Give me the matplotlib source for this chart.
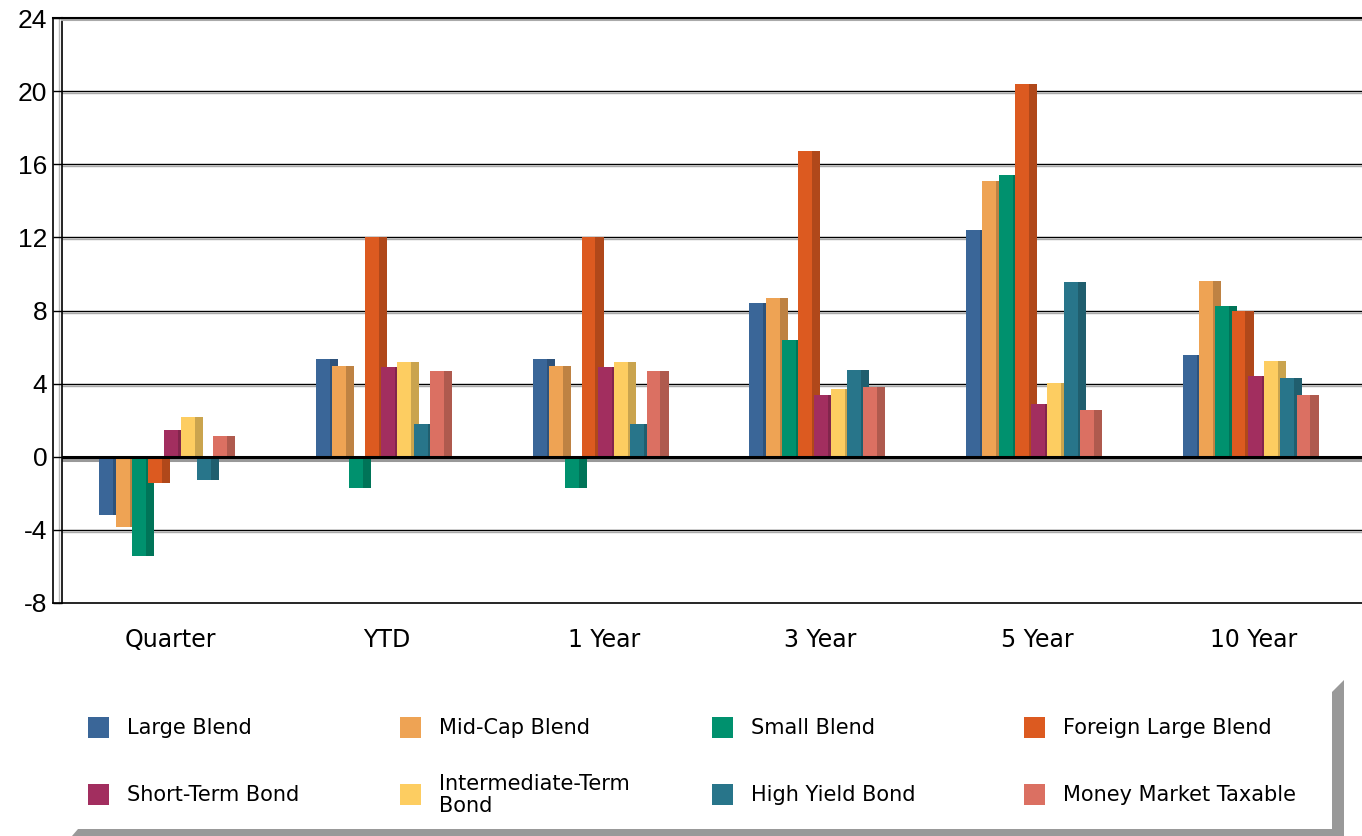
import numpy as np
import matplotlib
matplotlib.use('Agg')
import matplotlib.pyplot as plt
import matplotlib.patheffects as pe
from matplotlib.patches import Rectangle, Polygon
from matplotlib.lines import Line2D
from matplotlib.colors import to_rgb

# categories and series
periods = ['Quarter', 'YTD', '1 Year', '3 Year', '5 Year', '10 Year']
series = ['Large Blend', 'Mid-Cap Blend', 'Small Blend', 'Foreign Large Blend',
          'Short-Term Bond', 'Intermediate-Term\nBond', 'High Yield Bond',
          'Money Market Taxable']

large_blend   = [-3.2, 5.35, 5.35, 8.4, 12.4, 5.56]
midcap_blend  = [-3.85, 4.95, 4.95, 8.67, 15.07, 9.6]
small_blend   = [-5.45, -1.7, -1.7, 6.37, 15.4, 8.24]
foreign_large = [-1.46, 12.0, 12.0, 16.7, 20.38, 7.97]
short_bond    = [1.45, 4.9, 4.9, 3.36, 2.87, 4.4]
inter_bond    = [2.16, 5.2, 5.2, 3.7, 4.06, 5.22]
high_yield    = [-1.26, 1.78, 1.78, 4.73, 9.54, 4.3]
money_market  = [1.12, 4.68, 4.68, 3.8, 2.54, 3.36]

values = [large_blend, midcap_blend, small_blend, foreign_large,
          short_bond, inter_bond, high_yield, money_market]

colors = ['#3A6698', '#EEA354', '#00916E', '#DC5A20',
          '#A22E5F', '#FDCD61', '#28758A', '#DB7062']

yticks = [-8, -4, 0, 4, 8, 12, 16, 20, 24]

W, H = 1362, 836
fig = plt.figure(figsize=(W / 100, H / 100), dpi=100)
fig.patch.set_facecolor('white')

ax = fig.add_axes([62 / W, (H - 603) / H, (W - 62) / W, (603 - 18) / H])
ax.set_xlim(-0.5, 5.5)
ax.set_ylim(-8, 24)

def darker(c, f=0.8):
    r, g, b = to_rgb(c)
    return (r * f, g * f, b * f)

pitch = 0.075
front_w = 0.0645
side_w = 0.037
group_w = 7 * pitch + front_w + side_w
x = np.arange(len(periods))

for j, (vals, c) in enumerate(zip(values, colors)):
    off = -group_w / 2 - 0.014 + j * pitch
    ax.bar(x + off + front_w, vals, width=side_w, align='edge',
           color=darker(c), zorder=2, linewidth=0)
    ax.bar(x + off, vals, width=front_w, align='edge',
           color=c, zorder=2, linewidth=0)

# grid lines with a light shadow
shadow = [pe.SimpleLineShadow(offset=(0, -1.5), shadow_color='#aaaaaa', alpha=1),
          pe.Normal()]
for t in yticks[1:-1]:
    if t == 0:
        # shadow under the bars, black line over them
        ax.axhline(0, color='black', lw=2.2, zorder=1.5, path_effects=[
            pe.SimpleLineShadow(offset=(0, -2), shadow_color='#999999', alpha=1)])
        ax.axhline(0, color='black', lw=2.2, zorder=4)
    else:
        ax.axhline(t, color='black', lw=1, zorder=1, path_effects=shadow)

ax.spines['right'].set_visible(False)
ax.spines['top'].set_linewidth(1.5)
ax.spines['top'].set_path_effects(shadow)
ax.spines['bottom'].set_linewidth(1.2)
ax.spines['left'].set_linewidth(1.2)

ax.set_yticks(yticks)
ax.set_yticklabels([str(t) for t in yticks], fontsize=19, family='Liberation Sans')
ax.tick_params(axis='y', direction='out', length=6.5, width=1, pad=4)
ax.set_xticks(x)
ax.set_xticklabels(periods, fontsize=17, family='DejaVu Sans')
ax.tick_params(axis='x', length=0, pad=18)

# overlay in pixel coordinates for the frame extras and the legend
ov = fig.add_axes([0, 0, 1, 1], zorder=-1)
ov.set_xlim(0, W)
ov.set_ylim(H, 0)
ov.axis('off')

ov.add_line(Line2D([53, 53], [18, 603], color='black', lw=1.2))
ov.add_line(Line2D([59, 59], [18, 603], color='#bbbbbb', lw=1))
ov.add_line(Line2D([53, 62], [18, 18], color='black', lw=1.5))
ov.add_line(Line2D([53, 62], [603, 603], color='black', lw=1.2))

# legend box shadow
ov.add_patch(Polygon([(1332, 692), (1344, 680), (1344, 836), (72, 836),
                      (78, 829), (1332, 829)], closed=True,
                     facecolor='#999999', edgecolor='none'))

col_x = [88, 400, 712, 1024]
row_y = [717, 784]
for k, (name, c) in enumerate(zip(series, colors)):
    cx = col_x[k % 4]
    ry = row_y[k // 4]
    ov.add_patch(Rectangle((cx, ry), 21, 21, facecolor=c, edgecolor='none'))
    ov.text(cx + 39, ry + 11, name, fontsize=15, family='DejaVu Sans',
            va='center', ha='left', linespacing=1.1)

fig.savefig('out.png', dpi=100)
